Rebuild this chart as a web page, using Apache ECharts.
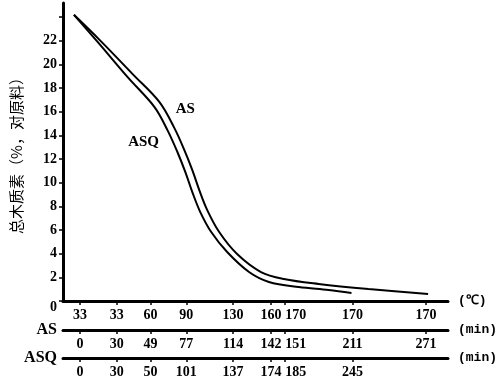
<!DOCTYPE html>
<html>
<head>
<meta charset="utf-8">
<script src="https://cdn.jsdelivr.net/npm/echarts@6/dist/echarts.min.js"></script>
<style>html,body{margin:0;padding:0;background:#fff}#c{width:500px;height:383px}</style>
</head>
<body>
<div id="c"></div>
<script>
// Position of each sampling stage along the horizontal axis (figure units)
var stagePos = [17, 54, 88, 124, 171, 209, 223, 291, 365];
// Tick labels of the three horizontal scales
var tempLabels = ['33', '33', '60', '90', '130', '160', '170', '170', '170'];
var asTime = ['0', '30', '49', '77', '114', '142', '151', '211', '271'];
var asqTime = ['0', '30', '50', '101', '137', '174', '185', '245'];
// Y ticks
var yTicks = [0, 2, 4, 6, 8, 10, 12, 14, 16, 18, 20, 22, 24];
var yLabels = [0, 2, 4, 6, 8, 10, 12, 14, 16, 18, 20, 22];
// Curves: AS
var asX = [11, 37, 70, 97, 112, 122, 130, 137, 145, 157, 175, 199, 222, 257, 307, 367];
var asY = [24.2, 22.06, 19.19, 16.82, 14.62, 12.76, 11.07, 9.38, 7.69, 5.83, 3.97, 2.45, 1.86, 1.44, 1.01, 0.59];
// Curves: ASQ
var asqX = [11, 35, 65, 92, 105, 115, 123, 130, 138, 149, 165, 187, 207, 237, 267, 290];
var asqY = [24.2, 21.89, 18.93, 16.40, 14.45, 12.60, 10.90, 9.21, 7.52, 5.83, 4.14, 2.45, 1.61, 1.18, 0.93, 0.68];
// Curve name labels (data coordinates)
var curveLabelPos = { AS: [123, 16.2], ASQ: [81, 13.4] };

function zip(xs, ys) { return xs.map(function (x, i) { return [x, ys[i]]; }); }

var serif = 'Liberation Serif';
var mono = 'Liberation Mono';
var lblStyle = { fontFamily: serif, fontWeight: 'bold', fontSize: 14, color: '#000' };

function timeAxis(offset, labels, name) {
  var pos = stagePos.slice(0, labels.length);
  return {
    type: 'value', gridIndex: 0, position: 'bottom', offset: offset,
    min: 0, max: 387,
    axisLine: { show: true, onZero: false, lineStyle: { color: '#000', width: 3 } },
    axisTick: { show: true, customValues: pos, length: 4, lineStyle: { color: '#000', width: 1.5 } },
    axisLabel: {
      show: true, customValues: pos, margin: 7, color: '#000',
      fontFamily: serif, fontWeight: 'bold', fontSize: 14,
      formatter: function (v) {
        var i = pos.indexOf(v);
        if (i < 0) return '';
        return i === 6 ? '{r|' + labels[i] + '}' : labels[i];
      },
      rich: { r: Object.assign({ padding: [0, 0, 0, 22] }, lblStyle) }
    },
    splitLine: { show: false },
    name: name, nameLocation: 'end', nameGap: 10,
    nameTextStyle: { fontFamily: mono, fontWeight: 'bold', fontSize: 13, color: '#000' }
  };
}
function nameAxis(offset, name) {
  return {
    type: 'value', gridIndex: 0, position: 'bottom', offset: offset,
    min: 0, max: 387,
    axisLine: { show: false, onZero: false },
    axisTick: { show: false }, axisLabel: { show: false }, splitLine: { show: false },
    name: name, nameLocation: 'start', nameGap: 6,
    nameTextStyle: { fontFamily: serif, fontWeight: 'bold', fontSize: 16, color: '#000', padding: [0, 0, 8, 0] }
  };
}

var chart = echarts.init(document.getElementById('c'), null, { renderer: 'canvas' });
chart.setOption({
  backgroundColor: '#fff',
  animation: false,
  grid: { left: 63, right: 50, top: 3, bottom: 82, containLabel: false },
  xAxis: [
    timeAxis(0, tempLabels, '(℃)'),
    timeAxis(29, asTime, '(min)'),
    timeAxis(57, asqTime, '(min)'),
    nameAxis(29, 'AS'),
    nameAxis(57, 'ASQ')
  ],
  yAxis: {
    type: 'value', min: 0, max: 25.2, interval: 2,
    axisLine: { show: true, onZero: false, lineStyle: { color: '#000', width: 3 } },
    axisTick: { show: true, customValues: yTicks, length: 4, lineStyle: { color: '#000', width: 1.5 } },
    axisLabel: {
      customValues: yLabels, margin: 6, color: '#000',
      fontFamily: serif, fontWeight: 'bold', fontSize: 14,
      formatter: function (v) { return v === 0 ? '{z|0}' : String(v); },
      rich: { z: Object.assign({ padding: [12, 0, 0, 0] }, lblStyle) }
    },
    splitLine: { show: false },
    name: '总木质素（%，对原料）', nameLocation: 'middle', nameGap: 39, nameRotate: 90,
    nameTextStyle: { fontFamily: 'Noto Sans CJK SC', fontSize: 15, color: '#000', padding: [0, 0, 0, 0] }
  },
  series: [
    {
      name: 'AS', type: 'line', xAxisIndex: 0, data: zip(asX, asY),
      smooth: 0.35, symbol: 'none',
      lineStyle: { color: '#000', width: 2 },
      markPoint: {
        symbol: 'circle', symbolSize: 1, itemStyle: { color: 'rgba(0,0,0,0)' },
        label: { show: true, position: 'inside', formatter: 'AS', color: '#000', fontFamily: serif, fontWeight: 'bold', fontSize: 15 },
        data: [{ coord: curveLabelPos.AS }]
      }
    },
    {
      name: 'ASQ', type: 'line', xAxisIndex: 0, data: zip(asqX, asqY),
      smooth: 0.35, symbol: 'none',
      lineStyle: { color: '#000', width: 2 },
      markPoint: {
        symbol: 'circle', symbolSize: 1, itemStyle: { color: 'rgba(0,0,0,0)' },
        label: { show: true, position: 'inside', formatter: 'ASQ', color: '#000', fontFamily: serif, fontWeight: 'bold', fontSize: 15 },
        data: [{ coord: curveLabelPos.ASQ }]
      }
    }
  ]
});
</script>
</body>
</html>
